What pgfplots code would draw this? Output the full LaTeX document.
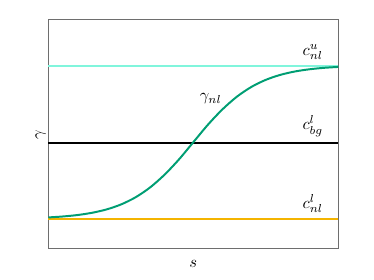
\documentclass[border=0pt]{standalone}
\usepackage{pgfplots}
\pgfplotsset{compat=1.18}
\definecolor{cyanline}{HTML}{80F5DC}
\definecolor{curvegreen}{HTML}{009E73}
\definecolor{goldline}{HTML}{F4B400}
\definecolor{framegray}{HTML}{6E6E6E}
\begin{document}
\begin{tikzpicture}
\begin{axis}[
  scale only axis,
  width=175.8pt, height=138.6pt,
  xmin=0, xmax=10, ymin=0, ymax=1,
  xtick=\empty, ytick=\empty,
  axis line style={framegray, line width=0.6pt},
  xlabel={$s$}, ylabel={$\gamma$},
  xlabel style={yshift=-3.5pt},
  ylabel style={yshift=-2pt},
  clip=false,
]
\addplot[cyanline, line width=1.2pt] coordinates {(0,0.800) (10,0.800)};
\addplot[black, line width=1.2pt] coordinates {(0,0.4635) (10,0.4635)};
\addplot[goldline, line width=1.2pt] coordinates {(0,0.131) (10,0.131)};
\addplot[curvegreen, line width=1.2pt, smooth] coordinates {
(0,0.1364) (0.5,0.1405) (1,0.1468) (1.5,0.1565) (2,0.1711) (2.5,0.1928)
(3,0.2239) (3.5,0.2667) (4,0.3224) (4.5,0.3895) (5,0.4655) (5.5,0.5415)
(6,0.6086) (6.5,0.6643) (7,0.7071) (7.5,0.7382) (8,0.7599) (8.5,0.7746)
(9,0.7842) (9.5,0.7906) (10,0.7946)};
\node[anchor=south] at (axis cs:9.12,0.800) {$c^{u}_{nl}$};
\node[anchor=south] at (axis cs:9.12,0.4635) {$c^{l}_{bg}$};
\node[anchor=south] at (axis cs:9.12,0.131) {$c^{l}_{nl}$};
\node at (axis cs:5.6,0.655) {$\gamma_{nl}$};
\end{axis}
\pgfresetboundingbox
\path[use as bounding box] ([xshift=-29.3pt,yshift=-19pt]current axis.south west) rectangle ([xshift=21.6pt,yshift=12.1pt]current axis.north east);
\end{tikzpicture}
\end{document}
